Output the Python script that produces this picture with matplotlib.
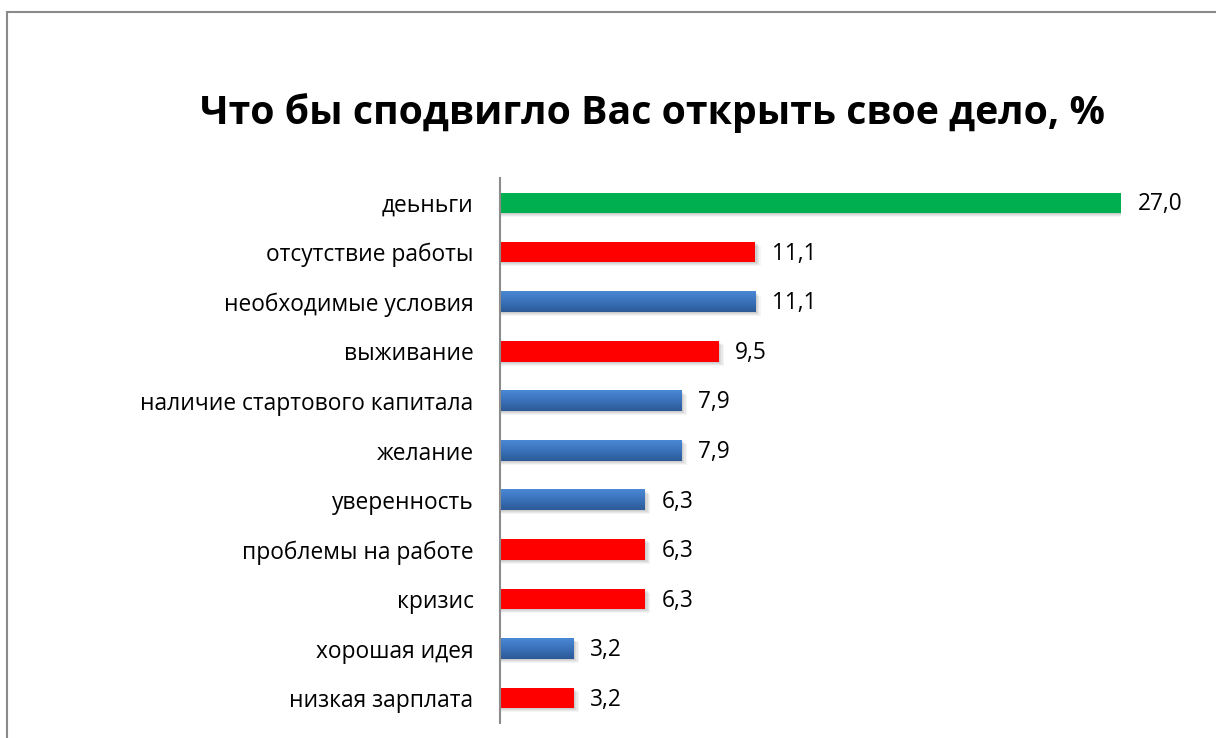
import matplotlib
matplotlib.use("Agg")
import matplotlib.pyplot as plt
import numpy as np
from matplotlib.patches import Rectangle
from matplotlib.colors import LinearSegmentedColormap

categories = ["деьньги", "отсутствие работы", "необходимые условия", "выживание",
              "наличие стартового капитала", "желание", "уверенность",
              "проблемы на работе", "кризис", "хорошая идея", "низкая зарплата"]
values = [27.0, 11.1, 11.1, 9.5, 7.9, 7.9, 6.3, 6.3, 6.3, 3.2, 3.2]
kinds = ["green", "red", "blue", "red", "blue", "blue", "blue", "red", "red", "blue", "red"]
labels = ["27,0", "11,1", "11,1", "9,5", "7,9", "7,9", "6,3", "6,3", "6,3", "3,2", "3,2"]
title = "Что бы сподвигло Вас открыть свое дело, %"

plt.rcParams['font.family'] = ['Open Sans', 'DejaVu Sans']

W, H = 1216, 738
fig = plt.figure(figsize=(W / 100, H / 100), dpi=100)
ax = fig.add_axes([500 / W, 1 - 723 / H, (1121 - 500) / W, (723 - 178) / H])

n = len(categories)
ypos = np.arange(n)
bh = 0.41
blue_cmap = LinearSegmentedColormap.from_list("b", ["#4a88d4", "#3a72ba", "#2c5a96"])
solid = {"green": "#00b050", "red": "#ff0000"}

for y, v, k in zip(ypos, values, kinds):
    # soft shadow
    for i, a in enumerate([0.06, 0.06, 0.05, 0.04]):
        d = 0.02 * (i + 1)
        ax.add_patch(Rectangle((0, y - bh / 2 + d), v + d * 3, bh, color="#000000",
                               alpha=a, lw=0, zorder=1))
    if k == "blue":
        grad = np.linspace(0, 1, 64).reshape(-1, 1)
        ax.imshow(grad, cmap=blue_cmap, aspect="auto",
                  extent=(0, v, y + bh / 2, y - bh / 2), zorder=3, interpolation="bilinear")
    else:
        ax.barh(y, v, height=bh, color=solid[k], zorder=3)

for y, v, t in zip(ypos, values, labels):
    ax.text(v + 0.72, y + 0.03, t, va="center", ha="left", fontsize=16.3, color="#000000")

ax.set_xlim(0, 27)
ax.set_ylim(n - 0.5, -0.5)
ax.set_yticks(ypos)
ax.set_yticklabels(categories, fontsize=16.4)
ax.tick_params(axis="y", length=0, pad=19)
ax.set_xticks([])
for s in ["top", "right", "bottom"]:
    ax.spines[s].set_visible(False)
ax.spines["left"].set_color("#8c8c8c")
ax.spines["left"].set_linewidth(1.5)
ax.spines["left"].set_zorder(5)

fig.text(652 / W, 1 - 113 / H, title, ha="center", va="center",
         fontsize=28.3, fontweight="bold", color="#000000")

fig.add_artist(Rectangle((7 / W, -0.1), 1.2, 1 - 12 / H + 0.1, transform=fig.transFigure,
                         fill=False, edgecolor="#8a8a8a", lw=1.5))

fig.savefig("out.png", dpi=100)
